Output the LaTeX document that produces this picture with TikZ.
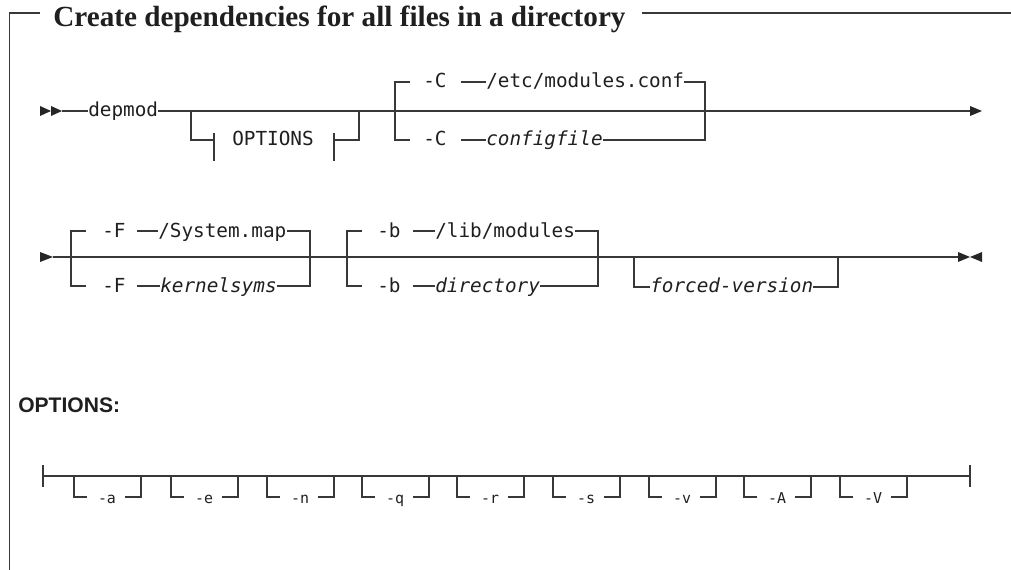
\documentclass[tikz,border=0pt]{standalone}
\usepackage{fontspec}
\setmonofont{DejaVu Sans Mono}
\newfontfamily\headsans{Liberation Sans}
\newfontfamily\titleserif{Liberation Serif}
\begin{document}
\begin{tikzpicture}[x=0.75pt,y=-0.75pt,
  rr/.style={draw=black!78, line width=1pt},
  tri/.style={fill=black!85},
  syn/.style={font=\fontsize{14.5}{16}\selectfont\ttfamily, inner sep=0pt, anchor=base west, text=black!88},
  synit/.style={syn, font=\fontsize{14.5}{16}\selectfont\ttfamily\itshape},
  optsyn/.style={font=\fontsize{11.2}{13}\selectfont\ttfamily, inner sep=0pt, anchor=base, text=black!88},
  titlefont/.style={font=\titleserif\bfseries\fontsize{21.9}{24}\selectfont, inner sep=0pt, anchor=base west, text=black!88},
  headfont/.style={font=\headsans\bfseries\fontsize{15.8}{18}\selectfont, inner sep=0pt, anchor=west, text=black!88}]
\useasboundingbox (0,0) rectangle (1011,570);

% frame and title
\node[titlefont] (title) at (53,27) {Create dependencies for all files in a directory};
\path (title.east) ++(16,0) coordinate (tr);
\draw[rr] (40,13) -- (9.5,13) -- (9.5,570);
\draw[rr] (tr |- 0,13) -- (1011,13);

% ---------------- row 1 ----------------
\coordinate (s1) at (62,111);
\coordinate (e1) at (970,111);
\fill[tri] (40,106) -- (51,111) -- (40,116) -- cycle;
\fill[tri] (51,106) -- (62,111) -- (51,116) -- cycle;
\node[syn] (depmod) at (88,117) {depmod};
\draw[rr] (s1) -- (s1 -| depmod.west);
\draw[rr] (s1 -| depmod.east) -- (e1);
\fill[tri] (970,106) -- (982,111) -- (970,116) -- cycle;

% OPTIONS fragment reference
\node[syn, anchor=base] (optref) at (273,146) {OPTIONS};
\draw[rr] (191,111) -- (191,140) -- (214,140);
\draw[rr] (214,133) -- (214,161);
\draw[rr] (334,133) -- (334,161);
\draw[rr] (334,140) -- (359,140) -- (359,111);

% -C choice
\node[syn] (c1) at (423,88) {-C};
\node[syn] (conf) at (486,88) {/etc/modules.conf};
\node[syn] (c2) at (423,146) {-C};
\node[synit] (cfg) at (486,146) {configfile};
\draw[rr] (410,82) -- (395,82) -- (395,140) -- (410,140);
\draw[rr] (461,82) -- (conf.west |- 0,82);
\draw[rr] (461,140) -- (cfg.west |- 0,140);
\draw[rr] (conf.east |- 0,82) -- (705,82) -- (705,140) -- (cfg.east |- 0,140);

% ---------------- row 2 ----------------
\coordinate (s2) at (53,257);
\coordinate (e2) at (958,257);
\fill[tri] (40,252) -- (53,257) -- (40,262) -- cycle;
\draw[rr] (s2) -- (e2);
\fill[tri] (958,252) -- (970,257) -- (958,262) -- cycle;
\fill[tri] (982,252) -- (970,257) -- (982,262) -- cycle;

% -F choice
\node[syn] (f1) at (102,237.5) {-F};
\node[syn] (smap) at (158,237.5) {/System.map};
\node[syn] (f2) at (102,292.5) {-F};
\node[synit] (ksym) at (160,292.5) {kernelsyms};
\draw[rr] (86,231) -- (71,231) -- (71,286) -- (86,286);
\draw[rr] (137,231) -- (smap.west |- 0,231);
\draw[rr] (137,286) -- (ksym.west |- 0,286);
\draw[rr] (smap.east |- 0,231) -- (310,231) -- (310,286) -- (ksym.east |- 0,286);

% -b choice
\node[syn] (b1) at (377,237.5) {-b};
\node[syn] (lmod) at (435,237.5) {/lib/modules};
\node[syn] (b2) at (377,292.5) {-b};
\node[synit] (dir) at (435,292.5) {directory};
\draw[rr] (362,231) -- (347,231) -- (347,286) -- (362,286);
\draw[rr] (413,231) -- (lmod.west |- 0,231);
\draw[rr] (413,286) -- (dir.west |- 0,286);
\draw[rr] (lmod.east |- 0,231) -- (598,231) -- (598,286) -- (dir.east |- 0,286);

% forced-version
\node[synit] (fv) at (650,293) {forced-version};
\draw[rr] (634,257) -- (634,287) -- (fv.west |- 0,287);
\draw[rr] (fv.east |- 0,287) -- (838,287) -- (838,257);

% ---------------- OPTIONS fragment ----------------
\node[headfont] (opthead) at (18,405) {OPTIONS:};
\coordinate (os) at (43,476);
\coordinate (oe) at (970,476);
\draw[rr] (43,465) -- (43,487);
\draw[rr] (970,465) -- (970,487);
\draw[rr] (os) -- (oe);
\foreach \L/\lab [count=\i] in {74/-a,171/-e,267/-n,362/-q,457/-r,553/-s,649/-v,744/-A,840/-V} {
  \node[optsyn] (o\i) at (\L+33,503) {\lab};
  \draw[rr] (\L,476) -- (\L,497) -- (\L+13,497);
  \draw[rr] (\L+51,497) -- (\L+67,497) -- (\L+67,476);
}
\end{tikzpicture}
\end{document}
